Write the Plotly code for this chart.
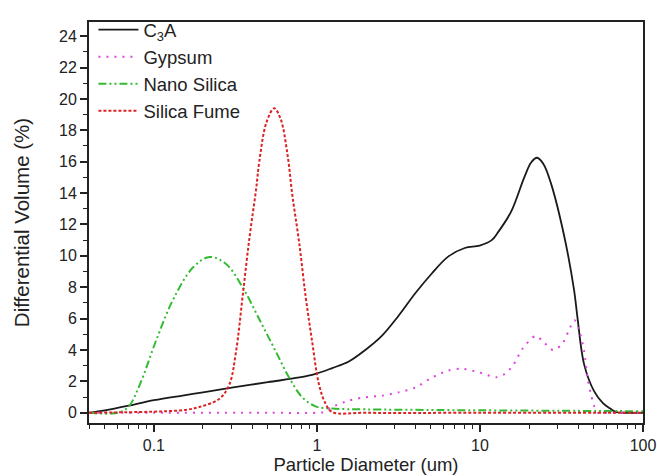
import plotly.graph_objects as go

# Particle diameter (um) and differential volume (%)
c3a_x = [0.04, 0.05, 0.07, 0.1, 0.15, 0.2, 0.3, 0.5, 0.78, 0.98, 1.24, 1.57, 1.98, 2.5, 3.16, 4.0, 5.05, 6.38, 8.07, 9.96, 11.8, 12.9, 15.5, 18.7, 20.6, 22.4, 24.5, 27.2, 32.8, 37.8, 39.6, 43.5, 50.0, 57.0, 63.0, 68.0, 80.0, 100.0]
c3a_y = [0.0, 0.15, 0.45, 0.8, 1.1, 1.3, 1.6, 1.95, 2.25, 2.48, 2.85, 3.27, 4.0, 4.9, 6.17, 7.6, 8.86, 9.95, 10.5, 10.65, 11.0, 11.5, 12.8, 15.0, 15.95, 16.25, 15.85, 14.65, 11.3, 7.8, 6.1, 3.1, 1.4, 0.6, 0.27, 0.05, 0.0, 0.0]

gyp_x = [0.04, 0.1, 0.5, 1.0, 1.1, 1.24, 1.57, 1.98, 2.5, 3.16, 4.0, 5.05, 6.38, 7.7, 9.7, 12.6, 14.2, 15.9, 18.3, 22.0, 24.6, 28.1, 32.0, 35.6, 38.0, 40.5, 43.6, 45.7, 47.9, 50.0, 53.0, 60.0, 100.0]
gyp_y = [0.0, 0.0, 0.0, 0.0, 0.05, 0.37, 0.78, 0.99, 1.09, 1.3, 1.6, 2.23, 2.69, 2.81, 2.6, 2.27, 2.48, 3.0, 4.1, 4.9, 4.5, 4.0, 4.4, 5.4, 5.9, 5.3, 3.9, 2.2, 1.2, 0.47, 0.0, 0.0, 0.0]

nano_x = [0.04, 0.06, 0.0697, 0.082, 0.104, 0.131, 0.174, 0.22, 0.277, 0.35, 0.443, 0.56, 0.676, 0.813, 0.98, 1.24, 2.0, 5.0, 10.0, 30.0, 100.0]
nano_y = [0.0, 0.0, 0.37, 1.8, 4.7, 7.2, 9.27, 9.93, 9.48, 8.0, 5.96, 3.9, 2.23, 0.99, 0.41, 0.27, 0.22, 0.18, 0.16, 0.13, 0.1]

sf_x = [0.04, 0.08, 0.12, 0.16, 0.19, 0.252, 0.29, 0.319, 0.35, 0.385, 0.423, 0.443, 0.49, 0.547, 0.6, 0.659, 0.708, 0.777, 0.853, 0.936, 1.03, 1.13, 1.24, 2.0, 10.0, 100.0]
sf_y = [0.0, 0.05, 0.1, 0.2, 0.37, 0.89, 1.8, 3.9, 7.4, 11.1, 14.2, 16.0, 18.5, 19.4, 18.7, 16.5, 13.8, 10.9, 7.4, 4.5, 1.8, 0.58, 0.05, 0.0, 0.0, 0.0]

x_tick_vals = [0.1, 1, 10, 100]
x_tick_text = ["0.1", "1", "10", "100"]

FONT = "Liberation Sans, Arial, sans-serif"

fig = go.Figure()
fig.add_trace(go.Scatter(x=c3a_x, y=c3a_y, mode="lines", name="C<sub>3</sub>A",
                         line=dict(color="#1a1a1a", width=1.8, shape="spline", smoothing=1.0)))
fig.add_trace(go.Scatter(x=gyp_x, y=gyp_y, mode="lines", name="Gypsum",
                         line=dict(color="#dd44dd", width=2, dash="2px,6px", shape="spline", smoothing=0.8)))
fig.add_trace(go.Scatter(x=nano_x, y=nano_y, mode="lines", name="Nano Silica",
                         line=dict(color="#33bb33", width=2, dash="8px,3px,2px,3px,2px,3px", shape="spline", smoothing=1.0)))
fig.add_trace(go.Scatter(x=sf_x, y=sf_y, mode="lines", name="Silica Fume",
                         line=dict(color="#dd2222", width=2, dash="3px,2px", shape="spline", smoothing=1.0)))

fig.update_layout(
    width=657, height=476,
    margin=dict(l=89, r=14, t=11, b=53),
    paper_bgcolor="white", plot_bgcolor="white",
    font=dict(family=FONT, color="#222222", size=16),
    legend=dict(x=0.008, y=1.027, xanchor="left", yanchor="top",
                bgcolor="rgba(0,0,0,0)", font=dict(size=18.5, color="#222222"),
                tracegroupgap=0, itemwidth=40),
    showlegend=True,
)
fig.update_xaxes(
    type="log", range=[-1.398, 2.0], automargin=False,
    tickvals=x_tick_vals, ticktext=x_tick_text,
    ticks="outside", ticklen=7, tickwidth=1.5, tickcolor="#222",
    minor=dict(ticks="outside", ticklen=4, tickwidth=1.2, tickcolor="#222", dtick="D1", showgrid=False),
    showline=True, linecolor="#222", linewidth=1.8, mirror=True,
    showgrid=False, zeroline=False,
    title=dict(text="Particle Diameter (um)", font=dict(size=18.5), standoff=5),
    tickfont=dict(size=16),
)
fig.update_yaxes(
    range=[-0.65, 24.9], dtick=2, tick0=0, automargin=False,
    ticks="outside", ticklen=7, tickwidth=1.5, tickcolor="#222",
    minor=dict(ticks="outside", ticklen=4, tickwidth=1.2, tickcolor="#222", dtick=1, showgrid=False),
    showline=True, linecolor="#222", linewidth=1.8, mirror=True,
    showgrid=False, zeroline=False,
    title=dict(text="Differential Volume (%)", font=dict(size=20.5), standoff=24),
    tickfont=dict(size=16),
)

fig.write_html("out.html")
